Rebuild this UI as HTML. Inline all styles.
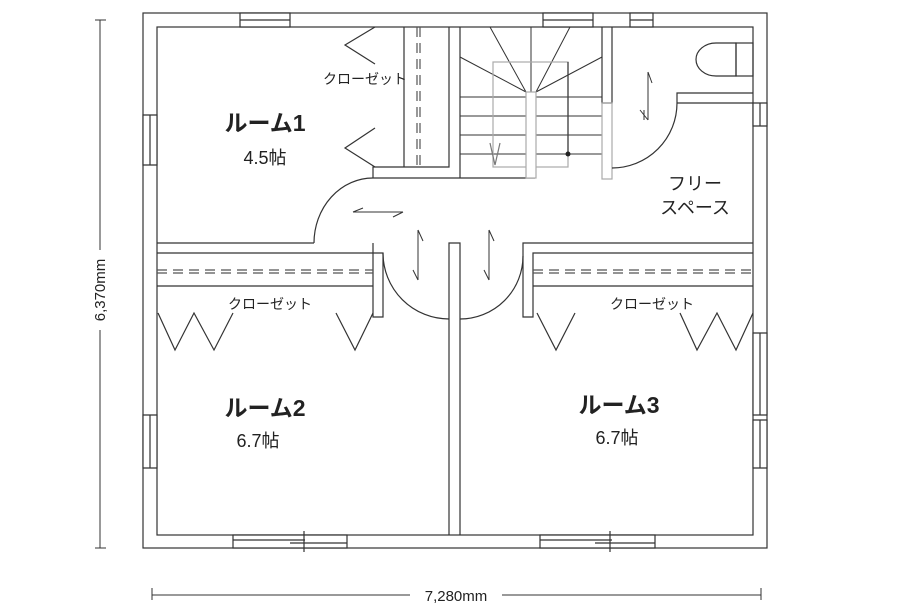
<!DOCTYPE html>
<html><head><meta charset="utf-8"><style>
html,body{margin:0;padding:0;background:#fff;}
svg{display:block}
text{font-family:"Liberation Sans","Noto Sans CJK JP",sans-serif;fill:#222}
</style></head><body>
<svg width="899" height="615" viewBox="0 0 899 615" xmlns="http://www.w3.org/2000/svg">
<g fill="none" stroke="#333" stroke-width="1.2">
<!-- outer walls -->
<rect x="143" y="13" width="624" height="535" fill="#fff"/>
<rect x="157" y="27" width="596" height="508"/>
<!-- room1 / room2 horizontal wall -->
<path d="M157 243 H314 M373 243 V317 H383 V253 H157"/>
<!-- right horizontal wall -->
<path d="M753 243 H523 V317 H533 V253 H753"/>
<!-- middle wall -->
<path d="M449 535 V243 H460 V535"/>
<!-- closets room2/room3 -->
<path d="M157 286 H373 M533 286 H753"/>
<path d="M157 270 H373 M157 273 H373 M533 270 H753 M533 273 H753" stroke-dasharray="10 6" stroke="#555"/>
<!-- door arcs -->
<path d="M383 253 A66 66 0 0 0 449 319"/>
<path d="M460 319 A63 63 0 0 0 523 256"/>
<path d="M314 243 A59 65 0 0 1 373 178"/>
<!-- closet doors room2/3 -->
<path d="M158 313 L175 350 L194 313 L214 350 L233 313"/>
<path d="M336 313 L355 350 L373 313"/>
<path d="M537 313 L556 350 L575 313"/>
<path d="M680 313 L697 350 L717 313 L736 350 L753 313"/>
<!-- room1 closet -->
<path d="M373 178 V167 H449 V27 M460 27 V178 M373 178 H535"/>
<path d="M404 27 V167"/>
<path d="M417 27 V167 M420 27 V167" stroke-dasharray="10 6" stroke="#555"/>
<path d="M375 27 L345 45 L375 64 M375 128 L345 148 L375 167"/>
<!-- stairs -->
<path d="M460 97 H602 M460 116 H602 M460 135 H602 M460 154 H602" stroke-width="1"/>
<path d="M526 92 L490 27 M531 92 L531 27 M536 92 L570 27 M526 92 L460 57 M536 92 L602 57" stroke-width="1"/>
<rect x="493" y="62" width="75" height="105" stroke="#aaa"/>
<rect x="526" y="92" width="10" height="86" stroke="#aaa" fill="#fff"/>
<path d="M568 62 V154"/>
<path d="M490 143 L495 165 L500 143" stroke="#777"/>
<!-- stair/toilet wall -->
<path d="M602 27 V103 H612 V27"/>
<rect x="602" y="103" width="10" height="76" stroke="#aaa"/>
<path d="M612 168 A65 65 0 0 0 677 103 V93 H753 M677 103 H753"/>
<!-- toilet -->
<path d="M736 43 V76 H716 A20 16.5 0 0 1 716 43 Z"/>
<rect x="736" y="43" width="17" height="33"/>
<path d="M648 72 V120 M648 72 L652 83 M644 120 V110 M648 120 L640 110" stroke-width="1"/>
<!-- hall arrows -->
<path d="M353 212 H403 M353 212 L363 208 M403 212 L393 217" stroke-width="1"/>
<path d="M418 230 V280 M418 230 L423 241 M418 280 L413 270" stroke-width="1"/>
<path d="M489 230 V280 M489 230 L494 241 M489 280 L484 270" stroke-width="1"/>
<!-- windows -->
<path d="M240 13 V27 H290 V13 Z M240 20 H290" fill="#fff"/>
<path d="M543 13 V27 H593 V13 Z M543 20 H593" fill="#fff"/>
<path d="M630 13 V27 H653 V13 Z M630 20 H653" fill="#fff"/>
<path d="M143 115 H157 V165 H143 Z M150 115 V165" fill="#fff"/>
<path d="M143 415 H157 V468 H143 Z M150 415 V468" fill="#fff"/>
<path d="M753 103 H767 V126 H753 Z M760 103 V126" fill="#fff"/>
<path d="M753 333 H767 V415 H753 Z M760 333 V415 M753 420 H767 V468 H753 Z M760 420 V468" fill="#fff"/>
<path d="M233 535 H347 V548 H233 Z M233 540 H305 M290 543 H347 M304 531 V552" fill="#fff"/>
<path d="M540 535 H655 V548 H540 Z M540 540 H612 M595 543 H655 M610 531 V552" fill="#fff"/>
<!-- dimensions -->
<path d="M100 20 V548 M95 20 H106 M95 548 H106" stroke-width="1"/>
<path d="M152 595 H410 M502 595 H761 M152 588 V600 M761 588 V600" stroke-width="1"/>
</g>
<circle cx="568" cy="154" r="2.5" fill="#222"/>
<rect x="84" y="250" width="32" height="80" fill="#fff"/>
<text x="0" y="0" font-size="15" text-anchor="middle" transform="translate(105 290) rotate(-90)">6,370mm</text>
<text x="456" y="601" font-size="15" text-anchor="middle">7,280mm</text>
<text x="265" y="131" font-size="23" font-weight="bold" text-anchor="middle">ルーム1</text>
<text x="265" y="164" font-size="18" text-anchor="middle">4.5帖</text>
<text x="265" y="416" font-size="23" font-weight="bold" text-anchor="middle">ルーム2</text>
<text x="258" y="447" font-size="18" text-anchor="middle">6.7帖</text>
<text x="619" y="413" font-size="23" font-weight="bold" text-anchor="middle">ルーム3</text>
<text x="617" y="444" font-size="18" text-anchor="middle">6.7帖</text>
<text x="365" y="84" font-size="14" text-anchor="middle">クローゼット</text>
<text x="270" y="309" font-size="14" text-anchor="middle">クローゼット</text>
<text x="652" y="309" font-size="14" text-anchor="middle">クローゼット</text>
<text x="695" y="190" font-size="18" text-anchor="middle">フリー</text>
<text x="695" y="214" font-size="18" text-anchor="middle">スペース</text>
</svg>
</body></html>
